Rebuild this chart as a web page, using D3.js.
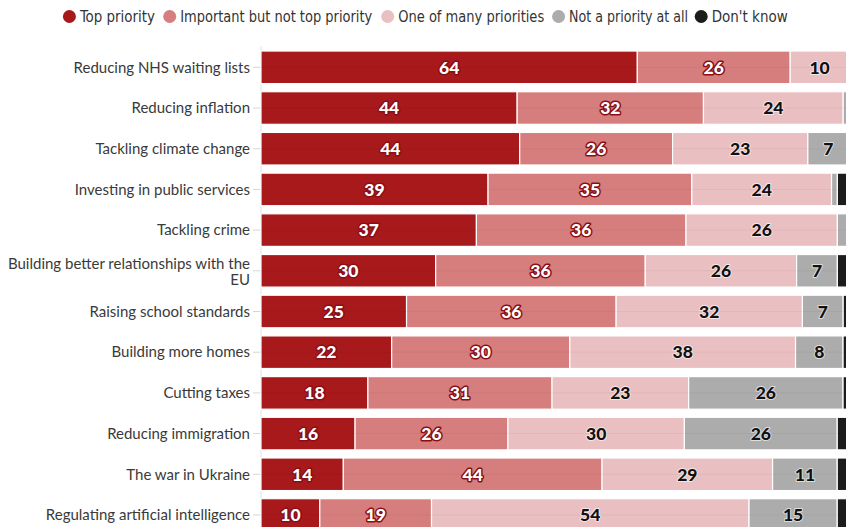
<!DOCTYPE html>
<html><head><meta charset="utf-8">
<script src="https://cdn.jsdelivr.net/npm/d3@7"></script>
<style>body{margin:0;background:#fff;overflow:hidden}svg{display:block}</style>
</head><body><svg id="c" width="846" height="527"></svg>
<script>
const categories = ["Reducing NHS waiting lists","Reducing inflation","Tackling climate change","Investing in public services","Tackling crime","Building better relationships with the EU","Raising school standards","Building more homes","Cutting taxes","Reducing immigration","The war in Ukraine","Regulating artificial intelligence"];
const seriesNames = ["Top priority","Important but not top priority","One of many priorities","Not a priority at all","Don't know"];
const topPriority   = [64,44,44,39,37,30,25,22,18,16,14,10];
const important     = [26,32,26,35,36,36,36,30,31,26,44,19];
const oneOfMany     = [10,24,23,24,26,26,32,38,23,30,29,54];
const notPriority   = [0,1,7,1,2,7,7,8,26,26,11,15];
const dontKnow      = [0,0,0,2,0,2,1,1,1,2,2,2];
const colors = ["#a8191c","#d67d7d","#e9bfc1","#acacac","#1c1c1c"];

const series = [topPriority, important, oneOfMany, notPriority, dontKnow];
const rows = categories.map((c,i)=>{const o={cat:c}; seriesNames.forEach((s,j)=>o[s]=series[j][i]); return o;});
const stack = d3.stack().keys(seriesNames).offset(d3.stackOffsetExpand)(rows);

const svg = d3.select("#c");
const x = d3.scaleLinear().domain([0,1]).range([261,849]);
const y = d3.scaleBand().domain(categories).range([42.9,539.4]).padding(0.2);

svg.append("line").attr("x1",261).attr("x2",261).attr("y1",46).attr("y2",527).attr("stroke","#e2e2e2");

svg.append("g").selectAll("line").data(categories).join("line")
  .attr("x1",253).attr("x2",261).attr("y1",d=>y(d)+y.bandwidth()/2).attr("y2",d=>y(d)+y.bandwidth()/2)
  .attr("stroke","#d6d6d6");

const g = svg.append("g");
stack.forEach((s,j)=>{
  g.append("g").attr("fill",colors[j]).selectAll("rect").data(s).join("rect")
    .attr("x",d=>x(d[0])).attr("width",d=>Math.max(0,x(d[1])-x(d[0])))
    .attr("y",d=>y(d.data.cat)).attr("height",y.bandwidth())
    .attr("stroke","#fff").attr("stroke-width",1.2);
});

svg.append("g").selectAll("line").data(categories).join("line")
  .attr("x1",261).attr("x2",846).attr("y1",d=>y(d)+y.bandwidth()/2).attr("y2",d=>y(d)+y.bandwidth()/2)
  .attr("stroke","rgba(0,0,0,0.04)");

stack.forEach((s,j)=>{
  const dark = j<2;
  svg.append("g").selectAll("text").data(s.filter(d=>d.data[seriesNames[j]]>=5)).join("text")
    .attr("x",d=>(x(d[0])+x(d[1]))/2).attr("y",d=>y(d.data.cat)+y.bandwidth()/2)
    .attr("dy","0.36em").attr("text-anchor","middle")
    .attr("font-family","Lato, 'Open Sans', sans-serif").attr("font-weight",900).attr("font-size",17.5)
    .attr("fill",dark?"#fff":"#111")
    .attr("stroke",dark?"#8a0e13":"rgba(255,255,255,0.6)").attr("stroke-width",dark?3:2)
    .attr("paint-order","stroke").attr("stroke-linejoin","round")
    .text(d=>d.data[seriesNames[j]]);
});

const lab = svg.append("g").attr("font-family","Lato, 'Open Sans', sans-serif").attr("font-size",15).attr("fill","#3a3a3a");
categories.forEach(c=>{
  const cy = y(c)+y.bandwidth()/2;
  const t = lab.append("text").attr("x",250).attr("text-anchor","end");
  if(c.length>35){
    const idx = c.lastIndexOf(" ");
    t.append("tspan").attr("x",250).attr("y",cy-7.5).attr("dy","0.35em").text(c.slice(0,idx));
    t.append("tspan").attr("x",250).attr("y",cy+9).attr("dy","0.35em").text(c.slice(idx+1));
  } else {
    t.attr("y",cy).attr("dy","0.35em").text(c);
  }
});

const legX = [69.4,169.7,387.7,558.6,701.2];
const legW = [75,192,146,119,76];
const leg = svg.append("g");
seriesNames.forEach((s,i)=>{
  leg.append("circle").attr("cx",legX[i]).attr("cy",16.5).attr("r",6.5).attr("fill",colors[i]);
  leg.append("text").attr("x",legX[i]+10.5).attr("y",16).attr("dy","0.35em")
    .attr("font-family","'Liberation Sans Narrow','DejaVu Sans Condensed',Lato,sans-serif").attr("font-size",16)
    .attr("fill","#333").attr("textLength",legW[i]).attr("lengthAdjust","spacingAndGlyphs").text(s);
});
</script></body></html>
